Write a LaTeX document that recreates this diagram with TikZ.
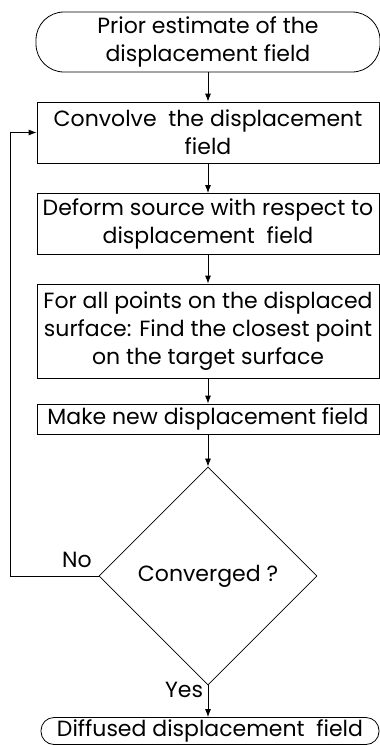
\documentclass[tikz,border=0pt]{standalone}
\usepackage{fontspec}
\setmainfont{Poppins}
\usetikzlibrary{shapes.geometric, arrows.meta}

\begin{document}
\begin{tikzpicture}[x=0.5pt,y=-0.5pt,
    font=\fontsize{11}{14}\selectfont,
    box/.style={draw, rectangle, align=center, inner sep=0pt, minimum width=171pt},
    term/.style={draw, rectangle, align=center, inner sep=0pt},
    arr/.style={-{Latex[length=4pt,width=3pt]}}]
    \useasboundingbox (0,0) rectangle (380,745);

    \node[term, rounded corners=14pt, minimum width=172pt, minimum height=30pt] (prior) at (208,42) {Prior estimate of the\\displacement field};
    \node[box, minimum height=30.5pt] (conv) at (208,132.5) {Convolve\ \ the displacement\\field};
    \node[box, minimum height=30.5pt] (deform) at (208,224) {Deform source with respect to\\displacement\ \ field};
    \node[box, minimum height=47pt] (closest) at (208,331) {For all points on the displaced\\surface: Find the closest point\\on the target surface};
    \node[box, minimum height=15pt] (newfield) at (208,419) {Make new displacement field};
    \node[draw, diamond, aspect=1, inner sep=0pt, minimum width=109pt, minimum height=109pt] (check) at (208,576) {Converged ?};
    \node[term, rounded corners=6.5pt, minimum width=169pt, minimum height=13.5pt] (diffused) at (210,731) {Diffused displacement\ \ field};

    \node (no) at (77,560) {No};
    \node (yes) at (184,690) {Yes};
    \coordinate (back) at (10,576);

    \draw[arr] (prior) -- (conv);
    \draw[arr] (conv) -- (deform);
    \draw[arr] (deform) -- (closest);
    \draw[arr] (closest) -- (newfield);
    \draw[arr] (newfield) -- (check);
    \draw[arr] (check) -- (check |- diffused.north);
    \draw[arr] (check.west) -- (back) |- (conv.west);
\end{tikzpicture}
\end{document}
